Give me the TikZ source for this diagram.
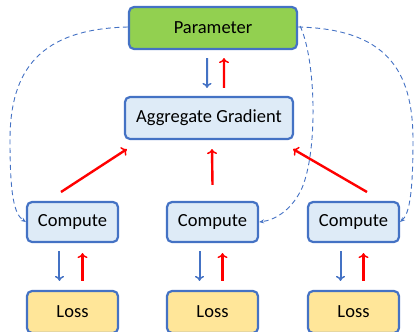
\documentclass[tikz,border=0pt]{standalone}
\usepackage{fontspec}
\setmainfont{Carlito}
\usetikzlibrary{arrows.meta}
\definecolor{edge}{HTML}{4472C4}
\definecolor{paramfill}{HTML}{92D050}
\definecolor{boxfill}{HTML}{DEEBF7}
\definecolor{lossfill}{HTML}{FFE699}
\definecolor{grad}{HTML}{FF0000}
\tikzset{
  box/.style={draw=edge, line width=2.2bp, rounded corners=5bp, fill=boxfill,
    minimum width=91bp, minimum height=40bp, inner sep=0pt, font=\fontsize{18.5bp}{22bp}\selectfont},
  wide/.style={box, minimum width=168bp, minimum height=42bp},
  fwd/.style={draw=edge, line width=2bp, -{To[length=5bp,width=9bp,line width=1.5bp]}},
  bwd/.style={draw=grad, line width=2.4bp, -{To[length=5bp,width=10bp,line width=1.5bp]}},
  sync/.style={draw=edge, line width=0.9bp, dash pattern=on 5bp off 3.5bp, -{Stealth[length=5bp,width=4bp]}}
}
\begin{document}
\begin{tikzpicture}[x=1bp,y=-1bp]
\useasboundingbox (0,0) rectangle (416,332);
% central parameter store and gradient aggregator
\node[wide, fill=paramfill] (param) at (213,28) {Parameter};
\node[wide] (agg) at (209,118) {Aggregate Gradient};
% workers
\foreach \i/\x in {1/72.5, 2/212.5, 3/353.5} {
  \node[box] (c\i) at (\x,222) {Compute};
  \node[box, fill=lossfill, minimum height=42bp] (l\i) at (\x,312) {Loss};
}
% parameter <-> aggregator
\draw[fwd] ([xshift=-6bp,yshift=-8bp]param.south) -- ([xshift=-2bp,yshift=8bp]agg.north);
\draw[bwd] ([xshift=15bp,yshift=8bp]agg.north) -- ([xshift=11bp,yshift=-8bp]param.south);
% compute <-> loss
\foreach \i in {1,2,3} {
  \draw[fwd] ([xshift=-13bp,yshift=-8bp]c\i.south) -- ([xshift=-13bp,yshift=9bp]l\i.north);
  \draw[bwd] ([xshift=10bp,yshift=9bp]l\i.north) -- ([xshift=10bp,yshift=-10bp]c\i.south);
}
% gradients flowing up to the aggregator
\coordinate (g1) at (61,192);
\coordinate (g3) at (367,192);
\draw[bwd] (g1) -- ([xshift=3bp,yshift=-9bp]agg.south west);
\draw[bwd] ([yshift=16bp]c2.north) -- ([xshift=3bp,yshift=-9bp]agg.south);
\draw[bwd] (g3) -- ([xshift=-1bp,yshift=-9bp]agg.south east);
% parameter broadcast to workers
\draw[sync] ([yshift=1bp]param.west) .. controls (40,29) and (10,70) .. (10,140)
  .. controls (10,195) and (14,214) .. (c1.west);
\draw[sync] ([yshift=1bp]param.east) .. controls (386,29) and (413,70) .. (413,140)
  .. controls (413,195) and (409,214) .. (c3.east);
\draw[sync] ([xshift=2bp,yshift=2bp]param.east) .. controls (316,60) and (318,150) .. (302,188)
  .. controls (292,210) and (275,220) .. (c2.east);
\end{tikzpicture}
\end{document}
